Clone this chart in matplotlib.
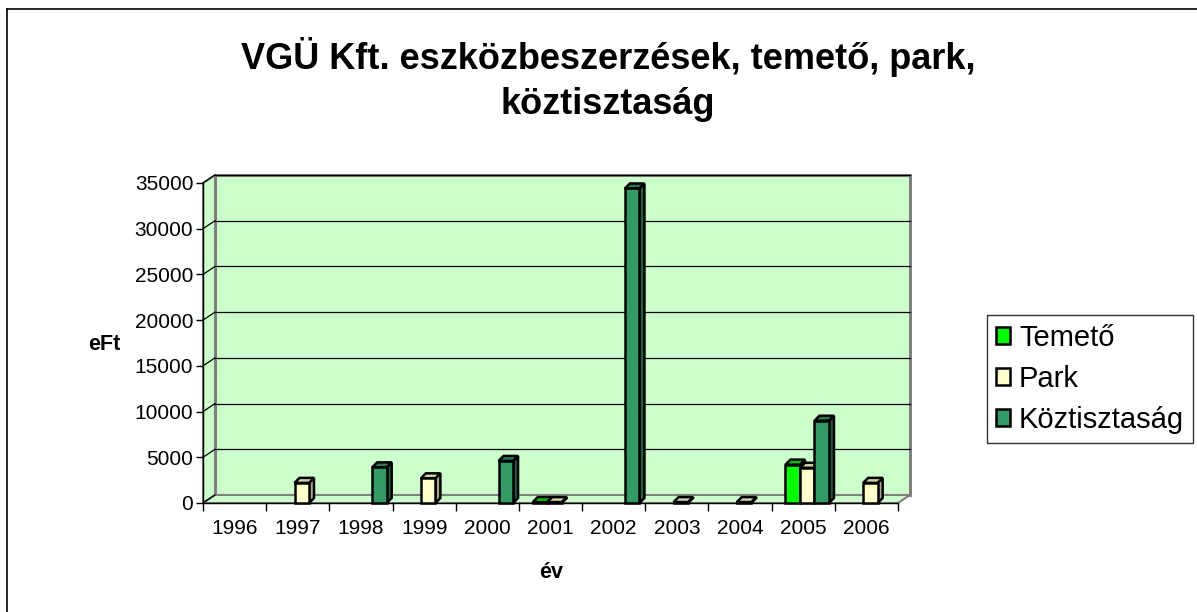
import numpy as np
import matplotlib.pyplot as plt
from matplotlib.patches import Polygon

plt.rcParams['font.family'] = ['Liberation Sans', 'DejaVu Sans']

years = ['1996', '1997', '1998', '1999', '2000', '2001', '2002', '2003', '2004', '2005', '2006']
nan = np.nan
temeto = [nan, nan, nan, nan, nan, 100, nan, nan, nan, 4200, nan]
park = [nan, 2200, nan, 2700, nan, 100, nan, 100, 100, 3850, 2200]
koztisztasag = [nan, nan, 3900, nan, 4600, nan, 34400, nan, nan, 9000, nan]

series_names = ['Temető', 'Park', 'Köztisztaság']
front_cols = ['#00ff00', '#ffffcc', '#339966']
side_cols = ['#00a000', '#a8a888', '#1f6040']
top_cols = ['#00c800', '#d0d0a8', '#2a7a52']

W, H = 1197, 612
fig = plt.figure(figsize=(W / 100, H / 100), dpi=100)
# front plane of the 3d box, in pixels: x 203..898, y 183..503
ax = fig.add_axes([203 / W, 1 - 503 / H, 695 / W, 320 / H])
ax.set_xlim(-0.5, len(years) - 0.5)
ax.set_ylim(0, 35000)
ax.patch.set_visible(False)

px_x = (len(years)) / 695.0     # category units per pixel
px_y = 35000 / 320.0            # value units per pixel
dxw, dyw = 12 * px_x, 8 * px_y  # wall depth
dxb, dyb = 5 * px_x, 5 * px_y   # bar depth
x0, x1 = -0.5, len(years) - 0.5
wall = '#ccffcc'
edge = '#808080'

# back wall, left wall, floor
ax.add_patch(Polygon([(x0 + dxw, dyw), (x1 + dxw, dyw), (x1 + dxw, 35000 + dyw), (x0 + dxw, 35000 + dyw)],
                     closed=True, fc=wall, ec=edge, lw=2.2, clip_on=False, zorder=0))
ax.add_patch(Polygon([(x0, 0), (x0 + dxw, dyw), (x0 + dxw, 35000 + dyw), (x0, 35000)],
                     closed=True, fc=wall, ec=edge, lw=1.5, clip_on=False, zorder=0))
ax.add_patch(Polygon([(x0, 0), (x1, 0), (x1 + dxw, dyw), (x0 + dxw, dyw)],
                     closed=True, fc=wall, ec=edge, lw=1.5, clip_on=False, zorder=0.5))

yt = np.arange(0, 35001, 5000)
for v in yt[1:]:
    ax.plot([x0 + dxw, x1 + dxw], [v + dyw, v + dyw], color='black', lw=0.9, clip_on=False, zorder=1)
for v in yt:
    ax.plot([x0, x0 + dxw], [v, v + dyw], color='black', lw=0.9, clip_on=False, zorder=1)

bw = 14.5 * px_x
shift = 4 * px_x
xs = np.arange(len(years))
all_vals = [temeto, park, koztisztasag]
handles = []
for k, vals in enumerate(all_vals):
    pos = xs + shift + (k - 1) * bw
    z = 3 + k
    for p, v in zip(pos, vals):
        if np.isnan(v):
            continue
        l, r = p - bw / 2, p + bw / 2
        ax.add_patch(Polygon([(r, 0), (r + dxb, dyb), (r + dxb, v + dyb), (r, v)],
                             closed=True, fc=side_cols[k], ec='black', lw=1.8, zorder=z, clip_on=False))
        ax.add_patch(Polygon([(l, v), (r, v), (r + dxb, v + dyb), (l + dxb, v + dyb)],
                             closed=True, fc=top_cols[k], ec='black', lw=1.8, zorder=z, clip_on=False))
    b = ax.bar(pos, vals, width=bw, color=front_cols[k], edgecolor='black', linewidth=1.8,
               zorder=z + 0.1, label=series_names[k], clip_on=False)
    handles.append(b)

for s in ['top', 'right']:
    ax.spines[s].set_visible(False)
ax.spines['left'].set_linewidth(1)
ax.spines['bottom'].set_linewidth(1)
ax.spines['left'].set_zorder(2)
ax.spines['bottom'].set_zorder(2)

ax.set_yticks(yt)
ax.set_yticklabels([str(v) for v in yt])
ax.tick_params(axis='y', length=5, width=1, pad=2, labelsize=15)
ax.set_xticks(np.arange(-0.5, len(years), 1.0))
ax.set_xticklabels([])
ax.tick_params(axis='x', length=6, width=1, direction='out')
for i, yr in enumerate(years):
    ax.text(i, -25 / 320, yr, transform=ax.get_xaxis_transform(), ha='center', va='center',
            fontsize=15)

fig.text(104 / W, 1 - 345 / H, 'eFt', ha='center', va='center', fontsize=15.5, fontweight='bold')
fig.text(551 / W, 1 - 572 / H, 'év', ha='center', va='center', fontsize=15.5, fontweight='bold')

fig.text(608 / W, 1 - 57 / H, 'VGÜ Kft. eszközbeszerzések, temető, park,', ha='center', va='center',
         fontsize=26, fontweight='bold')
fig.text(608 / W, 1 - 104 / H, 'köztisztaság', ha='center', va='center',
         fontsize=26, fontweight='bold')

leg = fig.legend(handles=handles, loc='upper left', bbox_to_anchor=(987 / W, 1 - 315 / H),
                 fontsize=21, frameon=True, fancybox=False, edgecolor='black',
                 handlelength=0.5, handleheight=0.5, handletextpad=0.3,
                 labelspacing=0.45, borderpad=0.3, borderaxespad=0)
leg.get_frame().set_linewidth(1)

# outer chart border (left and top visible)
fig.add_artist(plt.Line2D([7 / W, 7 / W], [0, 1 - 9 / H], color='black', lw=1.2))
fig.add_artist(plt.Line2D([7 / W, 1], [1 - 9 / H, 1 - 9 / H], color='black', lw=1.2))

plt.savefig('out.png', dpi=100)
